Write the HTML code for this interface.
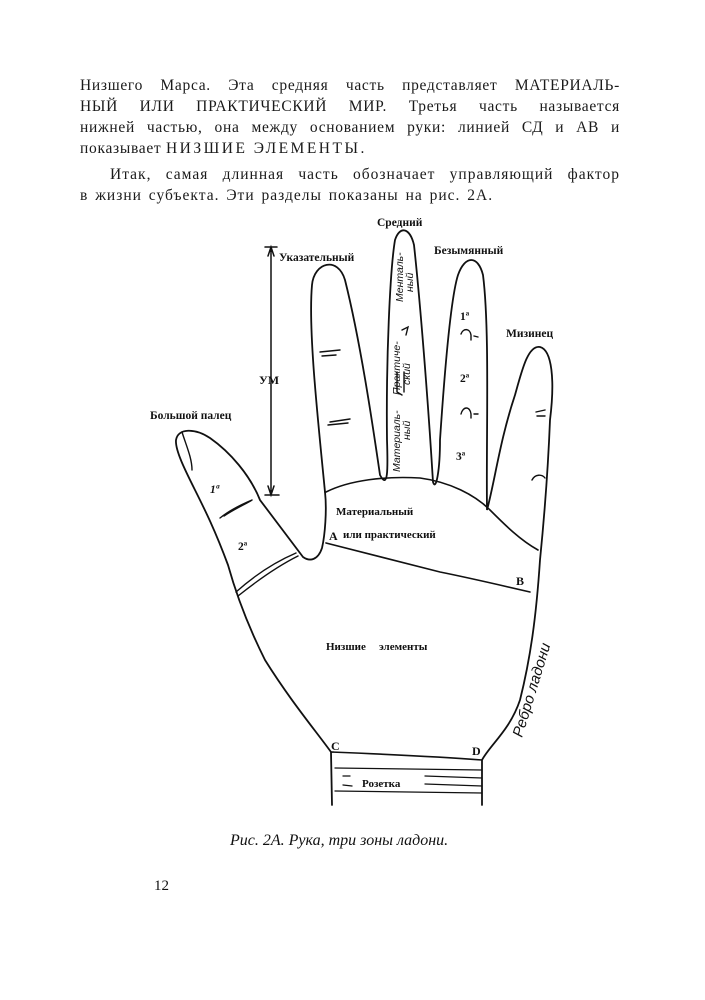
<!DOCTYPE html>
<html><head><meta charset="utf-8"><style>
body{margin:0;background:#fff;}
.wrap{position:relative;width:705px;height:1000px;overflow:hidden;background:#fff;}
.t{position:absolute;left:80px;width:540px;font-family:"Liberation Serif",serif;font-size:15.5px;letter-spacing:0.7px;color:#1a1a1a;line-height:21px;text-align:justify;text-align-last:justify;white-space:nowrap;}
svg{position:absolute;left:0;top:0;}
</style></head><body><div class="wrap">
<div class="t" style="top:75px">Низшего Марса. Эта средняя часть представляет МАТЕРИАЛЬ-</div>
<div class="t" style="top:96px">НЫЙ ИЛИ ПРАКТИЧЕСКИЙ МИР. Третья часть называется</div>
<div class="t" style="top:117px">нижней частью, она между основанием руки: линией СД и АВ и</div>
<div class="t" style="top:138px;text-align-last:left;">показывает <span style="letter-spacing:2.5px">НИЗШИЕ ЭЛЕМЕНТЫ.</span></div>
<div class="t" style="top:164px;left:110px;width:510px;letter-spacing:1px">Итак, самая длинная часть обозначает управляющий фактор</div>
<div class="t" style="top:185px;text-align-last:left;letter-spacing:1px;word-spacing:2px">в жизни субъекта. Эти разделы показаны на рис. 2А.</div>
<svg width="705" height="1000" viewBox="0 0 705 1000" fill="none" stroke="#111" stroke-width="1.8" stroke-linecap="round">
<path d="M325,492 C318,420 308,330 312,285 C314,262 338,256 345,280 C360,340 372,420 380,475 C388,490 388,470 387,440 C386,360 390,270 395,240 C400,225 410,228 414,245 C420,300 428,400 433,482 C436,492 440,470 440,440 C444,380 450,300 458,275 C465,255 478,255 483,275 C490,330 486,440 487,510 C495,480 500,440 515,395 C522,370 528,345 540,347 C552,350 555,380 550,420 C548,470 544,520 540,560 C536,620 530,660 520,700 C510,730 490,745 482,760 L482,805"/>
<path d="M332,805 L331,752 C315,730 290,700 265,660 C245,620 235,590 228,565 C215,530 205,510 195,490 C185,470 175,450 176,440 C178,428 195,428 210,438 C230,452 250,475 260,500 C275,520 290,540 303,557 C310,562 318,560 322,548 C325,535 327,510 325,492"/>
<path d="M182,432 C186,445 192,458 192,470" stroke-width="1.4"/>
<path d="M220,518 C230,510 240,505 252,500 M224,516 C236,508 246,504 252,500" stroke-width="1.4"/>
<path d="M236,592 C255,575 275,562 296,553 M238,596 C258,580 278,566 298,556" stroke-width="1.4"/>
<path d="M326,492 C350,480 385,476 420,478 C450,482 475,495 490,510 C505,525 520,540 538,550" stroke-width="1.6"/>
<path d="M326,543 C360,552 400,562 440,572 C470,578 500,585 530,592" stroke-width="1.6"/>
<path d="M331,752 C380,754 430,756 482,760" stroke-width="1.6"/>
<path d="M335,768 L482,770 M343,776 L350,776 M425,776 L482,778 M343,785 L352,786 M425,784 L482,786 M335,791 L482,793" stroke-width="1.3"/>
<path d="M320,352 L340,350 M322,356 L336,355 M330,422 L350,419 M328,425 L348,423 M461,334 C463,328 470,328 471,335 L471,340 M474,336 L478,337 M461,414 C463,406 470,406 471,414 L471,418 M474,414 L478,414 M536,412 L545,410 M537,416 L545,416 M532,480 C535,474 542,474 545,478" stroke-width="1.4"/>
<path d="M402,330 L408,327 L406,335 M397,372 L397,392 L402,395 M404,372 L404,392" stroke-width="1.4"/>
<path d="M265,247 L277,247 M271,247 L271,495 M265,495 L279,495 M268,256 L271,247 L274,256 M268,486 L271,495 L274,486" stroke-width="1.5"/>
<g stroke="none" fill="#111" font-family="Liberation Serif,serif" font-weight="bold" font-size="11.5">
<text x="377" y="226">Средний</text>
<text x="279" y="261">Указательный</text>
<text x="434" y="254">Безымянный</text>
<text x="506" y="337">Мизинец</text>
<text x="150" y="419">Большой палец</text>
<text x="259" y="384" font-size="12">УМ</text>
<text x="336" y="515" font-size="11">Материальный</text>
<text x="343" y="538" font-size="11">или практический</text>
<text x="326" y="650" font-size="11">Низшие</text>
<text x="379" y="650" font-size="11">элементы</text>
<text x="362" y="787" font-size="11">Розетка</text>
<text x="329" y="540" font-size="12">A</text>
<text x="516" y="585" font-size="12">B</text>
<text x="331" y="750" font-size="12">C</text>
<text x="472" y="755" font-size="12">D</text>
<text x="460" y="320">1ª</text>
<text x="460" y="382">2ª</text>
<text x="456" y="460">3ª</text>
<text x="210" y="493" font-style="italic">1ª</text>
<text x="238" y="550">2ª</text>
</g>
<g stroke="none" fill="#111" font-family="Liberation Sans,sans-serif" font-style="italic" font-size="10.5">
<text transform="translate(400,472) rotate(-90)">Материаль-</text>
<text transform="translate(410,440) rotate(-90)">ный</text>
<text transform="translate(400,395) rotate(-90)">Практиче-</text>
<text transform="translate(410,385) rotate(-90)">ский</text>
<text transform="translate(403,302) rotate(-90)">Менталь-</text>
<text transform="translate(413,292) rotate(-90)">ный</text>
<text transform="translate(522,738) rotate(-73)" font-size="15">Ребро ладони</text>
</g>
<text x="230" y="845" stroke="none" fill="#111" font-family="Liberation Serif,serif" font-style="italic" font-size="16">Рис. 2А. Рука, три зоны ладони.</text>
<text x="154" y="890" stroke="none" fill="#111" font-family="Liberation Serif,serif" font-size="15">12</text>
</svg>
</div></body></html>
